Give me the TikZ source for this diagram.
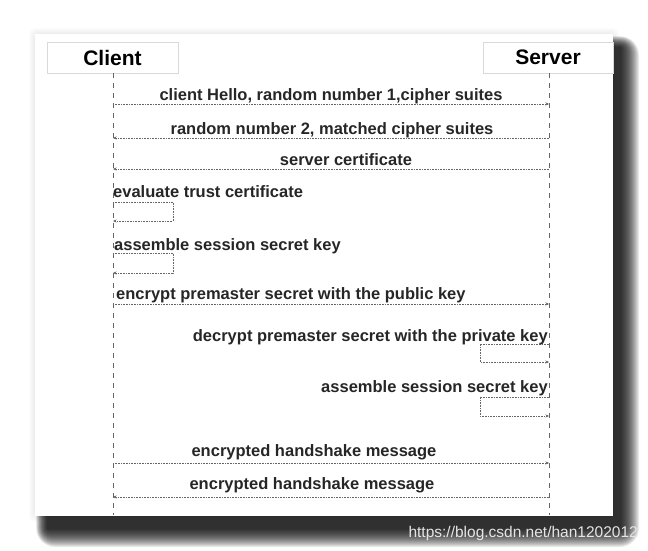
\documentclass[tikz,border=0pt]{standalone}
\usepackage{fontspec}
\setmainfont{Liberation Sans}
\usetikzlibrary{arrows.meta}
\begin{document}
\begin{tikzpicture}[x=1pt,y=-1pt,
  actor/.style={draw=black!15, line width=0.8pt, fill=white, minimum width=131pt, minimum height=31pt, font=\fontsize{21}{24}\selectfont\bfseries, inner sep=0pt},
  lifeline/.style={draw=black!60, dash pattern=on 5pt off 5pt, line width=0.8pt},
  msgline/.style={draw=black!60, densely dotted, line width=0.6pt, -{Stealth[length=3.5pt,width=3pt]}},
  msgtext/.style={font=\fontsize{16.5}{19}\selectfont\bfseries, text=black!85, inner sep=0pt, anchor=base},
  shadowlayer/.style={fill=black, fill opacity=0.08, draw=none},
]
\useasboundingbox (0,0) rectangle (648,551);
\fill[white] (0,0) rectangle (648,551);
% faint halo
\foreach \r in {6,5,...,1}{
  \fill[black, fill opacity=0.012, rounded corners=6pt] (35-\r,34-\r) rectangle (613+\r,516+\r);
}
% soft shadow built from stacked translucent layers
\foreach \r [evaluate=\r as \rc using \r+1, evaluate=\r as \rl using 47-0.6*\r] in {18,17,...,0}{
  \fill[shadowlayer, rounded corners=\rc pt] (\rl,\rl) rectangle (621+\r,529+\r);
}
% card
\node[fill=white, minimum width=578pt, minimum height=482pt, anchor=north west, inner sep=0pt] (card) at (35,34) {};

% actors
\node[actor] (client) at (112.5,57.5) {Client};
\node[actor, minimum width=130pt] (server) at (548,57.5) {Server};

% lifelines
\coordinate (cend) at (113,515);
\coordinate (send) at (549,515);
\draw[lifeline] (client.south -| cend) -- (cend);
\draw[lifeline] (server.south -| send) -- (send);

% message 1
\coordinate (c1) at (113,104); \coordinate (s1) at (549,104);
\draw[msgline] (c1) -- (s1);
\node[msgtext] (t1) at (331,100) {client Hello, random number 1,cipher suites};
% message 2
\coordinate (c2) at (113,138); \coordinate (s2) at (549,138);
\draw[msgline] (s2) -- (c2);
\node[msgtext] (t2) at (332,134) {random number 2, matched cipher suites};
% message 3
\coordinate (c3) at (113,169); \coordinate (s3) at (549,169);
\draw[msgline] (s3) -- (c3);
\node[msgtext] (t3) at (346,165) {server certificate};
% message 4 (self)
\coordinate (c4a) at (113,202); \coordinate (c4b) at (113,221);
\draw[msgline] (c4a) -- ++(60,0) |- (c4b);
\node[msgtext, anchor=base west] (t4) at (113,197) {evaluate trust certificate};
% message 5 (self)
\coordinate (c5a) at (113,253); \coordinate (c5b) at (113,273);
\draw[msgline] (c5a) -- ++(60,0) |- (c5b);
\node[msgtext, anchor=base west] (t5) at (114,250) {assemble session secret key};
% message 6
\coordinate (c6) at (113,304); \coordinate (s6) at (549,304);
\draw[msgline] (c6) -- (s6);
\node[msgtext, anchor=base west] (t6) at (116,299) {encrypt premaster secret with the public key};
% message 7 (self, server)
\coordinate (s7a) at (549,344); \coordinate (s7b) at (549,362);
\draw[msgline] (s7a) -- ++(-69,0) |- (s7b);
\node[msgtext, anchor=base east] (t7) at (548,341) {decrypt premaster secret with the private key};
% message 8 (self, server)
\coordinate (s8a) at (549,397); \coordinate (s8b) at (549,416);
\draw[msgline] (s8a) -- ++(-69,0) |- (s8b);
\node[msgtext, anchor=base east] (t8) at (548,392) {assemble session secret key};
% message 9
\coordinate (c9) at (113,463); \coordinate (s9) at (549,463);
\draw[msgline] (c9) -- (s9);
\node[msgtext] (t9) at (314,456) {encrypted handshake message};
% message 10
\coordinate (c10) at (113,497); \coordinate (s10) at (549,497);
\draw[msgline] (s10) -- (c10);
\node[msgtext] (t10) at (312,489) {encrypted handshake message};

% watermark
\node[font=\fontsize{15.5}{18}\selectfont, text=black!10, anchor=base east, inner sep=0pt] (wm) at (638,537) {https://blog.csdn.net/han1202012};
\end{tikzpicture}
\end{document}
